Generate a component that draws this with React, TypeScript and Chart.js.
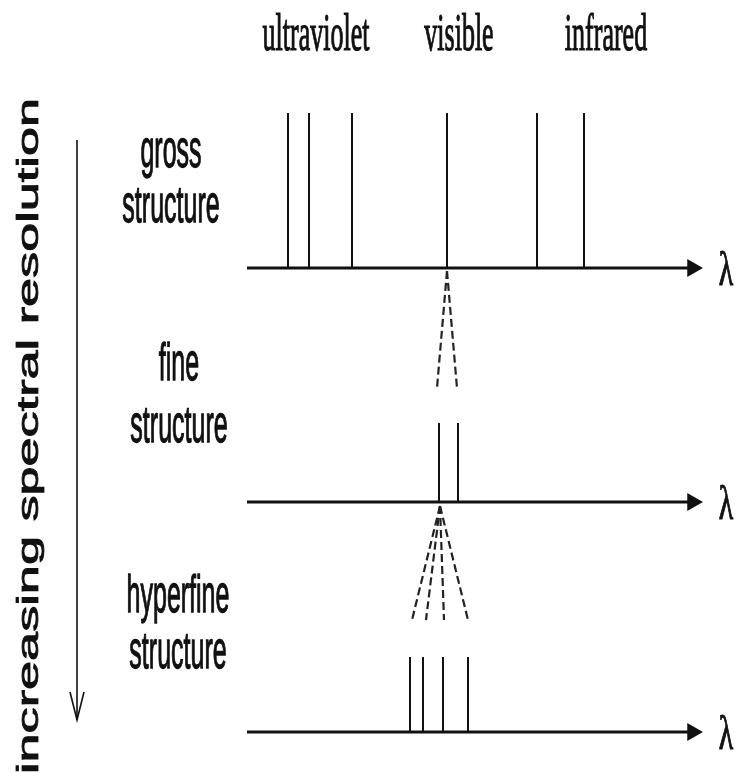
import React, { useEffect, useRef } from "react";
import { Chart, registerables } from "chart.js";
Chart.register(...registerables);

const W = 738;
const H = 773;

// spectral region labels
const regionLabels = ["ultraviolet", "visible", "infrared"];
const regionCenters = [316, 459, 606];

// level labels
const levelNames = [
  ["gross", "structure"],
  ["fine", "structure"],
  ["hyperfine", "structure"],
];
const levelLabelX = [171, 179, 178];

// wavelength axes (one per level)
const levelAxisY = [268, 502, 732];
const lineTopY = [113, 423, 657];
const axisStartX = 247;
const axisEndX = 703;

// spectral line positions
const grossLines = [288, 309, 352, 447, 537, 584];
const fineLines = [439, 458];
const hyperfineLines = [410, 423, 443, 468];

// zoom fans (dashed)
const fineFanOrigin = 447;
const fineFanEnds = [437, 457];
const fineFanY = [271, 388];
const hyperFanOrigin = 440;
const hyperFanEnds = [412, 426, 444, 468];
const hyperFanY = [506, 620];

// resolution arrow
const resArrowX = 77;
const resArrowY = [140, 720];
const resTitle = "increasing spectral resolution";

const INK = "#111";

function seg(x1: number, y1: number, x2: number, y2: number, width: number, dash: number[] = [], color = INK) {
  return {
    type: "line" as const,
    data: [
      { x: x1, y: y1 },
      { x: x2, y: y2 },
    ],
    borderColor: color,
    borderWidth: width,
    borderDash: dash,
    pointRadius: 0,
    showLine: true,
    fill: false,
    tension: 0,
  };
}

function buildDatasets() {
  const ds: any[] = [];
  const levels = [grossLines, fineLines, hyperfineLines];
  levels.forEach((lines, i) => {
    const ay = levelAxisY[i];
    ds.push(seg(axisStartX, ay, axisEndX - 12, ay, 3));
    lines.forEach((lx) => ds.push(seg(lx, lineTopY[i], lx, ay, 2)));
    ds.push({
      type: "scatter" as const,
      data: [{ x: axisEndX - 10.5, y: ay }],
      pointStyle: "triangle",
      rotation: 90,
      pointRadius: 10.5,
      backgroundColor: INK,
      borderColor: INK,
      borderWidth: 0,
    });
  });
  fineFanEnds.forEach((ex) => ds.push(seg(fineFanOrigin, fineFanY[0], ex, fineFanY[1], 2.2, [8, 4], "#222")));
  hyperFanEnds.forEach((ex) => ds.push(seg(hyperFanOrigin, hyperFanY[0], ex, hyperFanY[1], 2.2, [8, 4], "#222")));
  // resolution arrow
  ds.push(seg(resArrowX, resArrowY[0], resArrowX, resArrowY[1], 1.6));
  ds.push({
    type: "line" as const,
    data: [
      { x: resArrowX - 7, y: resArrowY[1] - 28 },
      { x: resArrowX, y: resArrowY[1] },
      { x: resArrowX + 7, y: resArrowY[1] - 28 },
    ],
    borderColor: INK,
    borderWidth: 1.6,
    pointRadius: 0,
    showLine: true,
    fill: false,
    tension: 0,
  });
  return ds;
}

function drawText(
  ctx: CanvasRenderingContext2D,
  text: string,
  x: number,
  y: number,
  font: string,
  sx: number,
  sy: number,
  stroke: number
) {
  ctx.save();
  ctx.translate(x, y);
  ctx.scale(sx, sy);
  ctx.font = font;
  ctx.textAlign = "center";
  ctx.textBaseline = "alphabetic";
  ctx.fillStyle = INK;
  ctx.strokeStyle = INK;
  ctx.lineWidth = stroke;
  ctx.fillText(text, 0, 0);
  if (stroke > 0) ctx.strokeText(text, 0, 0);
  ctx.restore();
}

const labelPlugin = {
  id: "labels",
  afterDraw(chart: any) {
    const ctx: CanvasRenderingContext2D = chart.ctx;
    const xs = chart.scales.x;
    const ys = chart.scales.y;
    const px = (v: number) => xs.getPixelForValue(v);
    const py = (v: number) => ys.getPixelForValue(v);
    const serif = "26px 'Liberation Serif', 'Times New Roman', serif";
    const sans = "25px 'Liberation Sans', Arial, sans-serif";

    regionLabels.forEach((t, i) => drawText(ctx, t, px(regionCenters[i]), py(50), serif, 1, 2.05, 0.6));

    levelNames.forEach((names, i) => {
      const base = levelAxisY[i];
      const firstBase = [167, 380, 612][i];
      const gap = [55, 62, 56][i];
      drawText(ctx, names[0], px(levelLabelX[i]), py(firstBase), sans, 1, 2.1, 0.6);
      drawText(ctx, names[1], px(levelLabelX[i]), py(firstBase + gap), sans, 1, 2.1, 0.6);
      drawText(ctx, "λ", px(726), py(base + 17), serif, 1.15, 1.9, 0.6);
    });

    ctx.save();
    ctx.translate(px(38), py(436));
    ctx.rotate(-Math.PI / 2);
    ctx.scale(1.74, 1);
    ctx.font = "30px 'Liberation Sans', Arial, sans-serif";
    ctx.textAlign = "center";
    ctx.textBaseline = "alphabetic";
    ctx.fillStyle = INK;
    ctx.strokeStyle = INK;
    ctx.lineWidth = 0.8;
    ctx.fillText(resTitle, 0, 0);
    ctx.strokeText(resTitle, 0, 0);
    ctx.restore();
  },
};

export default function App() {
  const ref = useRef<HTMLCanvasElement>(null);
  useEffect(() => {
    if (!ref.current) return;
    const chart = new Chart(ref.current, {
      type: "scatter",
      data: { datasets: buildDatasets() },
      options: {
        responsive: false,
        animation: false,
        layout: { padding: 0, autoPadding: false },
        plugins: { legend: { display: false }, tooltip: { enabled: false } },
        scales: {
          x: { type: "linear", min: 0, max: W, display: false },
          y: { type: "linear", min: 0, max: H, reverse: true, display: false },
        },
        elements: { line: { borderCapStyle: "butt" } },
      },
      plugins: [labelPlugin],
    } as any);
    return () => chart.destroy();
  }, []);
  return (
    <div style={{ position: "absolute", left: 0, top: 0, width: W, height: H, background: "#fff" }}>
      <canvas ref={ref} width={W} height={H} />
    </div>
  );
}
